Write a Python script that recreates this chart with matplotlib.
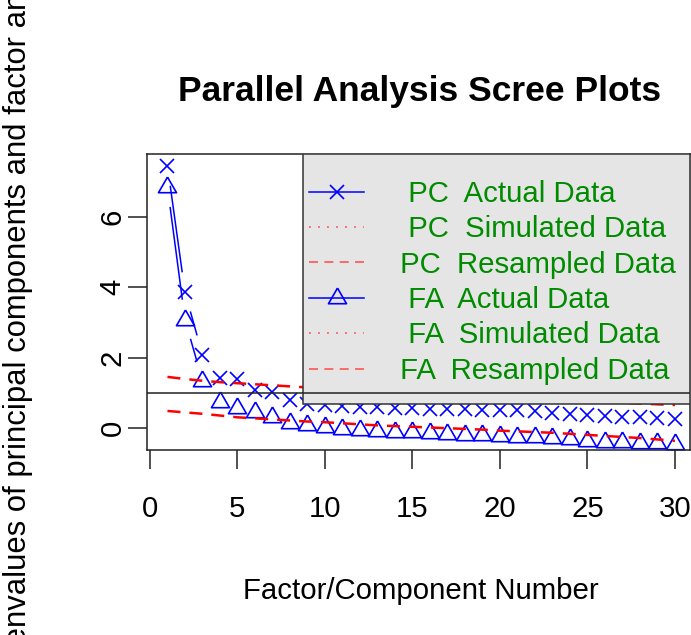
import numpy as np
import matplotlib
matplotlib.use("Agg")
import matplotlib.pyplot as plt
from matplotlib.lines import Line2D
from matplotlib.patches import Rectangle
from matplotlib.collections import LineCollection

plt.rcParams['font.family'] = ['Liberation Sans', 'DejaVu Sans']

# values
factor_no = np.arange(1, 31)
pc_actual = [7.45, 3.86, 2.08, 1.43, 1.40, 1.08, 1.02, 0.80, 0.68, 0.64,
             0.62, 0.60, 0.59, 0.57, 0.56, 0.55, 0.54, 0.53, 0.52, 0.51,
             0.50, 0.47, 0.43, 0.40, 0.37, 0.35, 0.32, 0.30, 0.27, 0.24]
fa_actual = [6.85, 3.08, 1.34, 0.74, 0.57, 0.46, 0.31, 0.15, 0.09, 0.02,
             -0.03, -0.06, -0.09, -0.11, -0.13, -0.15, -0.17, -0.19, -0.21, -0.23,
             -0.25, -0.27, -0.29, -0.31, -0.38, -0.40, -0.41, -0.42, -0.43, -0.45]
pc_resampled = [1.45, 1.39, 1.34, 1.30, 1.27, 1.24, 1.21, 1.18, 1.15, 1.12,
                1.09, 1.06, 1.04, 1.01, 0.99, 0.96, 0.94, 0.91, 0.89, 0.87,
                0.84, 0.82, 0.80, 0.78, 0.76, 0.74, 0.71, 0.69, 0.67, 0.65]
fa_resampled = [0.48, 0.44, 0.40, 0.35, 0.30, 0.27, 0.24, 0.21, 0.18, 0.16,
                0.13, 0.10, 0.07, 0.05, 0.03, 0.01, -0.01, -0.03, -0.05, -0.08,
                -0.10, -0.12, -0.14, -0.17, -0.20, -0.23, -0.26, -0.29, -0.33, -0.37]
legend_labels = ["  PC  Actual Data", "  PC  Simulated Data", " PC  Resampled Data",
                 "  FA  Actual Data", "  FA  Simulated Data", " FA  Resampled Data"]

W, H = 691, 635
FS = 21.2
tri = [(0, 1), (-0.866, -0.5), (0.866, -0.5), (0, 1)]


def gapped_line(ax, x, y, gap, **kw):
    # R type="b": lines stop short of each point
    pts = ax.transData.transform(np.column_stack([x, y]))
    inv = ax.transData.inverted()
    segs = []
    for p0, p1 in zip(pts[:-1], pts[1:]):
        d = p1 - p0
        L = np.hypot(*d)
        if L > 2 * gap:
            u = d / L
            segs.append(inv.transform([p0 + u * gap, p1 - u * gap]))
    ax.add_collection(LineCollection(segs, **kw))


fig = plt.figure(figsize=(W / 100, H / 100), dpi=100)
ax = fig.add_axes([147 / W, (H - 450) / H, (690 - 147) / W, (450 - 154) / H])
ax.set_xlim(-0.17, 30.86)
ax.set_ylim(-0.63, 7.79)

gapped_line(ax, factor_no, pc_actual, 20, colors='blue', linewidths=1.1)
gapped_line(ax, factor_no, fa_actual, 20, colors='blue', linewidths=1.1)
ax.plot(factor_no, pc_actual, ls='none', marker='x', ms=9.5, mew=1.2, color='blue')
ax.plot(factor_no, fa_actual, ls='none', marker=tri, ms=15, mew=1.2,
        mfc='none', mec='blue')
ax.plot(factor_no, pc_resampled, color='red', lw=1.8, ls=(0, (5.2, 3.6)))
ax.plot(factor_no, fa_resampled, color='red', lw=1.8, ls=(0, (5.2, 3.6)))

# legend background box (R legend bg = gray90)
y0 = (450 - 404) / 296
x0 = (303 - 147) / 543
ax.add_patch(Rectangle((x0, y0), 1 - x0, 1 - y0, transform=ax.transAxes,
                       facecolor='#e5e5e5', edgecolor='#333333', lw=1.1, zorder=4.5))
ax.axhline(1, color='#222222', lw=1.1, zorder=6)

handles = [
    Line2D([], [], color='blue', lw=1.1, marker='x', ms=9.5, mew=1.2),
    Line2D([], [], color='#ff6060', lw=1.3, ls=(0, (1, 4))),
    Line2D([], [], color='#ff6060', lw=1.3, ls=(0, (5, 3.5))),
    Line2D([], [], color='blue', lw=1.1, marker=tri, ms=15, mew=1.2, mfc='none'),
    Line2D([], [], color='#ff6060', lw=1.3, ls=(0, (1, 4))),
    Line2D([], [], color='#ff6060', lw=1.3, ls=(0, (5, 3.5))),
]
leg = ax.legend(handles, legend_labels, loc='upper left',
                bbox_to_anchor=((309 - 147) / 543, (450 - 180) / 296),
                frameon=False, fontsize=FS, handlelength=1.87, handletextpad=0.95,
                labelspacing=0.25, borderpad=0, borderaxespad=0, numpoints=1)
for t in leg.get_texts():
    t.set_color('#008B00')
leg.set_zorder(5)

ax.set_xticks([0, 5, 10, 15, 20, 25, 30])
ax.set_yticks([0, 2, 4, 6])
for s in ax.spines.values():
    s.set_linewidth(1.1)
    s.set_color('#222222')
ax.tick_params(axis='both', length=13.5, width=1.1, color='#222222', labelsize=FS)
ax.tick_params(axis='x', pad=19)
ax.tick_params(axis='y', pad=1, labelrotation=90)
for lab in ax.get_yticklabels():
    lab.set_va('center')

fig.text(420 / W, (H - 101) / H, "Parallel Analysis Scree Plots",
         ha='center', va='baseline', fontsize=25.5, weight='bold')
fig.text(421 / W, (H - 599) / H, "Factor/Component Number",
         ha='center', va='baseline', fontsize=FS)
# y label is wider than the figure, so R clips it at both ends
fig.text(26 / W, (H - 300) / H,
         "eigenvalues of principal components and factor analysis",
         ha='center', va='baseline', rotation=90, rotation_mode='anchor',
         fontsize=22.3)

fig.savefig("out.png", dpi=100)
